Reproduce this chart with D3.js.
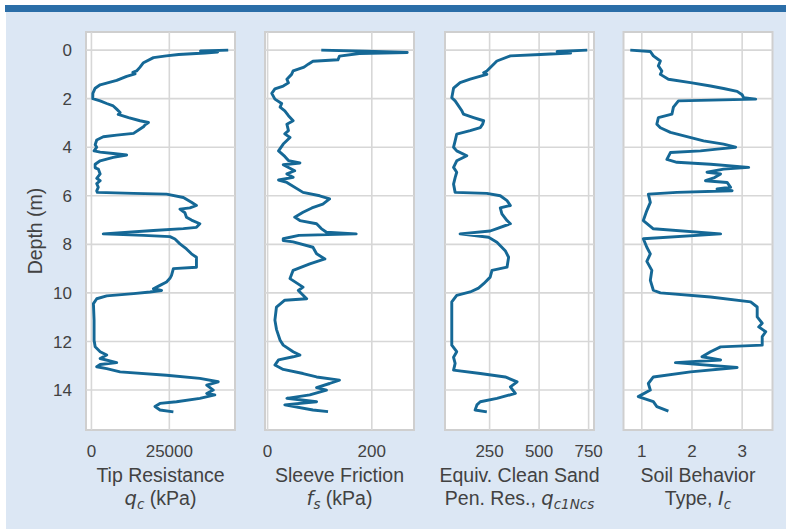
<!DOCTYPE html>
<html>
<head>
<meta charset="utf-8">
<script src="https://cdn.jsdelivr.net/npm/d3@7"></script>
<style>
  body { margin: 0; background: #fff; }
  text { font-family: "Liberation Sans", Arial, sans-serif; fill: #424242; }
  .math { font-family: "DejaVu Sans", sans-serif; font-style: italic; }
</style>
</head>
<body>
<div id="chart"></div>
<script>
// CPT sounding, values (depth in m)
var qcDepth = [0.00,0.04,0.08,0.12,0.18,0.24,0.31,0.52,0.70,0.86,0.92,0.98,1.08,1.25,1.43,1.57,1.78,2.00,2.09,2.20,2.30,2.43,2.57,2.65,2.78,2.91,2.98,3.08,3.16,3.25,3.43,3.50,3.57,3.70,3.90,4.00,4.15,4.20,4.26,4.32,4.42,4.56,4.70,4.85,4.90,5.10,5.28,5.38,5.50,5.65,5.80,5.86,5.90,5.93,6.07,6.27,6.40,6.50,6.55,6.70,6.88,7.00,7.15,7.30,7.35,7.43,7.57,7.63,7.68,7.78,7.98,8.19,8.39,8.53,8.73,8.94,9.00,9.28,9.40,9.55,9.69,9.83,9.90,9.96,10.03,10.12,10.24,10.44,11.12,11.95,12.22,12.42,12.56,12.70,12.87,12.95,13.04,13.12,13.25,13.39,13.52,13.66,13.80,14.00,14.14,14.20,14.34,14.48,14.55,14.68,14.82,14.90];
var qcValues = [43900,35000,40500,36500,28000,24000,19900,16700,15600,14500,13300,14000,11300,8100,2800,1200,450,430,2800,4900,7000,8100,9200,8600,11900,15600,18300,17200,16700,15600,13500,8100,3800,1700,1200,1700,850,2800,7000,11300,7000,2800,1200,1200,2200,2800,1700,2800,1700,2200,1700,1900,13500,24100,29500,32100,33700,31600,28400,30000,30500,32100,34800,33700,29500,19900,3800,16700,25200,26800,28400,30500,32100,33700,33700,33700,26300,25700,25200,24100,22000,19900,22500,18800,13500,4900,1700,640,850,850,1200,2800,4900,2800,8100,2800,1700,4900,9200,24100,34800,40700,37000,39100,37000,39600,34800,27300,22000,20400,22000,26300];

var fsDepth = [0.00,0.05,0.10,0.14,0.25,0.40,0.46,0.58,0.70,0.86,1.00,1.20,1.35,1.48,1.60,1.78,2.02,2.20,2.35,2.50,2.70,2.91,3.05,3.32,3.45,3.60,3.87,4.15,4.38,4.55,4.65,4.72,4.97,5.10,5.24,5.35,5.45,5.86,6.00,6.13,6.34,6.50,6.68,6.88,7.02,7.15,7.35,7.50,7.57,7.63,7.77,7.84,7.90,8.12,8.39,8.60,8.80,9.07,9.41,9.76,9.90,10.24,10.30,10.58,11.12,11.50,11.95,12.15,12.42,12.56,12.63,12.76,12.97,13.15,13.32,13.46,13.59,13.73,13.90,14.00,14.20,14.34,14.48,14.61,14.82,14.89];
var fsValues = [103,190,268,176,138,135,87,78,70,49,46,37,40,30,14,8,14,27,24,33,40,49,37,40,33,43,30,21,33,40,62,30,52,37,49,21,37,68,100,119,106,85,68,52,62,94,103,113,170,60,30,30,49,87,94,110,81,49,43,68,59,75,33,17,14,17,24,30,49,62,49,21,14,30,68,94,138,119,94,113,81,37,94,33,87,116];

var qncDepth = [0.00,0.06,0.12,0.18,0.24,0.45,0.86,0.93,1.00,1.20,1.34,1.57,1.96,2.09,2.50,2.64,2.78,2.91,3.05,3.19,3.32,3.46,3.74,4.00,4.15,4.35,4.56,4.83,5.03,5.25,5.52,5.86,5.90,6.00,6.20,6.40,6.50,6.74,7.02,7.15,7.35,7.45,7.57,7.71,7.91,8.26,8.53,8.94,9.07,9.35,9.62,9.80,9.96,10.10,10.37,11.20,12.15,12.42,12.65,12.90,13.18,13.32,13.46,13.66,13.87,14.14,14.34,14.48,14.61,14.82,14.90];
var qncValues = [743,591,659,507,355,287,236,220,236,152,101,68,59,76,110,118,169,220,215,203,152,84,76,68,84,135,84,68,84,76,68,76,236,304,338,355,304,312,338,355,287,253,101,245,287,329,346,338,262,253,220,194,152,84,59,59,59,84,68,76,68,203,329,389,355,380,287,203,186,177,236];

var icDepth = [0.00,0.06,0.24,0.45,0.65,0.86,1.00,1.20,1.34,1.48,1.58,1.70,1.84,1.96,2.02,2.09,2.35,2.64,2.78,3.05,3.20,3.39,3.74,3.87,4.00,4.08,4.15,4.22,4.50,4.62,4.70,4.83,4.90,5.03,5.10,5.25,5.38,5.45,5.65,5.72,5.79,5.86,5.93,6.27,6.61,7.02,7.36,7.57,7.77,8.12,8.39,8.70,9.07,9.48,9.89,10.00,10.17,10.37,10.58,10.99,11.25,11.40,11.60,11.80,12.15,12.22,12.42,12.63,12.76,12.87,13.07,13.25,13.46,13.73,14.00,14.27,14.48,14.68,14.87];
var icValues = [0.77,1.17,1.23,1.37,1.33,1.40,1.37,1.53,1.97,2.37,2.63,2.90,3.00,3.03,3.27,1.73,1.63,1.60,1.33,1.30,1.37,1.57,2.23,2.63,2.87,2.50,2.17,1.57,1.50,1.70,2.37,3.13,2.63,2.30,2.57,2.45,2.27,2.70,2.77,2.50,2.80,1.70,1.13,1.17,1.10,1.03,1.23,2.57,1.03,1.10,1.17,1.10,1.20,1.17,1.23,1.37,2.37,3.17,3.30,3.30,3.40,3.33,3.47,3.40,3.40,2.57,2.37,2.20,2.57,1.67,2.90,1.97,1.23,1.13,1.17,0.93,1.23,1.30,1.53];

var depthTicks = [0, 2, 4, 6, 8, 10, 12, 14];
var qcTicks = [0, 25000];
var fsTicks = [0, 200];
var qncTicks = [250, 500, 750];
var icTicks = [1, 2, 3];

var tracks = [
  {depth: qcDepth, values: qcValues, ticks: qcTicks, title: "Tip Resistance",
   sub: [["q", "c"], " (kPa)"]},
  {depth: fsDepth, values: fsValues, ticks: fsTicks, title: "Sleeve Friction",
   sub: [["f", "s"], " (kPa)"]},
  {depth: qncDepth, values: qncValues, ticks: qncTicks, title: "Equiv. Clean Sand",
   sub: ["Pen. Res., ", ["q", "c1Ncs"]]},
  {depth: icDepth, values: icValues, ticks: icTicks, title: "Soil Behavior",
   sub: ["Type, ", ["I", "c"]]}
];

var width = 786, height = 529;
var svg = d3.select("#chart").append("svg")
  .attr("width", width).attr("height", height);

// page background + header bar
svg.append("rect").attr("x", 6).attr("y", 12).attr("width", width - 6).attr("height", height - 12)
  .attr("fill", "#dce7f4");
svg.append("rect").attr("x", 5).attr("y", 5).attr("width", width - 5).attr("height", 7)
  .attr("fill", "#2b6ea8");

var lefts = [86, 265, 445, 623.5];
var panelW = 149, plotTop = 32, plotBottom = 430;

// matplotlib style 5% margins
function padded(ext) {
  var r = ext[1] - ext[0];
  return [ext[0] - 0.05 * r, ext[1] + 0.05 * r];
}

var allDepth = [].concat(qcDepth, fsDepth, qncDepth, icDepth);
var y = d3.scaleLinear().domain(padded(d3.extent(allDepth))).range([plotTop, plotBottom]);

tracks.forEach(function (t, i) {
  var x = d3.scaleLinear().domain(padded(d3.extent(t.values)))
    .range([lefts[i], lefts[i] + panelW]);
  var g = svg.append("g");

  g.append("rect").attr("x", lefts[i]).attr("y", plotTop)
    .attr("width", panelW).attr("height", plotBottom - plotTop)
    .attr("fill", "#fff").attr("stroke", "#cfcfcf").attr("stroke-width", 2);

  // grid
  g.selectAll(".hg").data(depthTicks).enter().append("line")
    .attr("x1", lefts[i]).attr("x2", lefts[i] + panelW)
    .attr("y1", function (d) { return y(d); }).attr("y2", function (d) { return y(d); })
    .attr("stroke", "#d7d7d7").attr("stroke-width", 1.6);
  g.selectAll(".vg").data(t.ticks).enter().append("line")
    .attr("y1", plotTop).attr("y2", plotBottom)
    .attr("x1", function (d) { return x(d); }).attr("x2", function (d) { return x(d); })
    .attr("stroke", "#d7d7d7").attr("stroke-width", 1.6);

  // x tick labels
  g.selectAll(".xt").data(t.ticks).enter().append("text")
    .attr("x", function (d) { return x(d); }).attr("y", 457)
    .attr("text-anchor", "middle").style("font-size", "17px")
    .text(function (d) { return d; });

  // profile line
  var line = d3.line()
    .x(function (d) { return x(d[1]); })
    .y(function (d) { return y(d[0]); });
  g.append("path").datum(d3.zip(t.depth, t.values))
    .attr("d", line).attr("fill", "none")
    .attr("stroke", "#156896").attr("stroke-width", 2.9)
    .attr("stroke-linejoin", "round");

  // axis label, two lines
  var cx = lefts[i] + panelW / 2;
  g.append("text").attr("x", cx).attr("y", 482).attr("text-anchor", "middle")
    .style("font-size", "19.5px").text(t.title);
  var l2 = g.append("text").attr("x", cx).attr("y", 505).attr("text-anchor", "middle")
    .style("font-size", "19.5px");
  var shift = 0;
  t.sub.forEach(function (part) {
    if (typeof part === "string") {
      l2.append("tspan").attr("dy", -shift).text(part);
      shift = 0;
    } else {
      l2.append("tspan").attr("class", "math").attr("dy", -shift).text(part[0]);
      l2.append("tspan").attr("class", "math").attr("dy", 4)
        .style("font-size", "13.5px").text(part[1]);
      shift = 4;
    }
  });
});

// depth tick labels (shared axis)
svg.selectAll(".yt").data(depthTicks).enter().append("text")
  .attr("x", 72).attr("y", function (d) { return y(d); })
  .attr("dy", "0.36em").attr("text-anchor", "end").style("font-size", "17px")
  .text(function (d) { return d; });

svg.append("text").attr("transform", "translate(42," + (plotTop + plotBottom) / 2 + ") rotate(-90)")
  .attr("text-anchor", "middle").style("font-size", "19.5px").text("Depth (m)");
</script>
</body>
</html>
